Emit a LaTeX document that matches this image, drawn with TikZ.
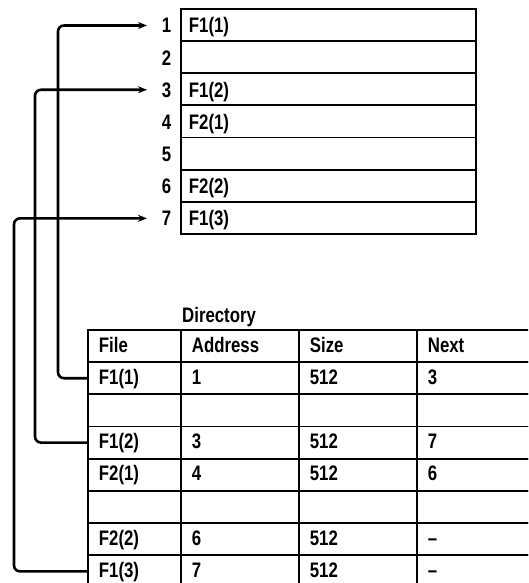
\documentclass[tikz,border=0pt]{standalone}
\usepackage{fontspec}
\setmainfont{Liberation Sans}[FakeStretch=0.8]
\usetikzlibrary{arrows.meta, positioning, calc}

\begin{document}
\begin{tikzpicture}[
    x=1pt, y=-1pt,
    font=\fontsize{21}{23}\selectfont\bfseries,
    block/.style={draw, line width=1.8pt, anchor=north west, minimum height=32.14pt,
        text width=279pt, align=left, inner xsep=8pt, inner ysep=7pt,
        text height=17pt, text depth=1pt},
    blocknum/.style={anchor=base west, text width=24pt, align=right, inner sep=0pt,
        text height=15pt, text depth=0pt},
    cell/.style={draw, line width=1.8pt, anchor=north west, minimum height=32.2pt,
        align=left, inner xsep=11pt, inner ysep=7pt, text height=15pt, text depth=3pt},
    link/.style={line width=2.6pt, rounded corners=6pt, -{Stealth[length=9pt, width=7pt]}},
]
\useasboundingbox (0,0) rectangle (528,583);
\clip (0,0) rectangle (528,583);

% ---- Disk blocks ----
\foreach \i/\t in {1/F1(1), 2/, 3/F1(2), 4/F2(1), 5/, 6/F2(2), 7/F1(3)} {
    \node[block] (blk\i) at (180, {8+32.14*(\i-1)}) {\t};
    \node[blocknum] (num\i) at (147, {33+32.14*(\i-1)}) {\i};
}

% ---- Directory ----
\foreach \r/\fa/\fb/\fc/\fd in {0/File/Address/Size/Next, 1/F1(1)/1/512/3, 2////,
        3/F1(2)/3/512/7, 4/F2(1)/4/512/6, 5////, 6/F2(2)/6/512/--, 7/F1(3)/7/512/--} {
    \node[cell, text width=71pt]  (file\r) at (87,  {329+32.2*\r}) {\fa};
    \node[cell, text width=96pt]  (addr\r) at (180, {329+32.2*\r}) {\fb};
    \node[cell, text width=96pt]  (size\r) at (298, {329+32.2*\r}) {\fc};
    \node[cell, text width=102pt] (next\r) at (416, {329+32.2*\r}) {\fd};
}
\node[anchor=south west, inner xsep=2pt, inner ysep=2pt] (dirlabel) at (addr0.north west) {Directory};

% links from directory entries to blocks
\draw[link] (file1.west) -- ++(-29,0) |- (num1.west);
\draw[link] (file3.west) -- ++(-52,0) |- (num3.west);
\draw[link] (file7.west) -- ++(-73,0) |- (num7.west);

\end{tikzpicture}
\end{document}
